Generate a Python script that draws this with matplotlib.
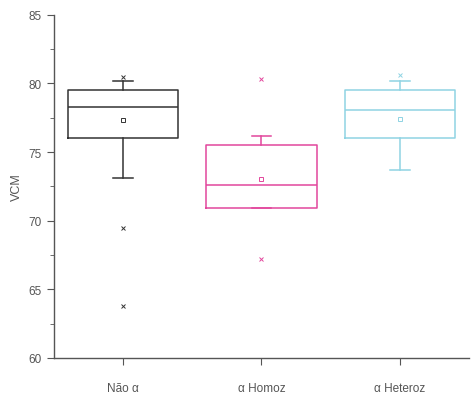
import matplotlib
matplotlib.use("Agg")
import matplotlib.pyplot as plt
from matplotlib.ticker import MultipleLocator

# values
groups = ["Não α", "α Homoz", "α Heteroz"]
q1 = [76.0, 70.95, 76.05]
medians = [78.3, 72.6, 78.1]
q3 = [79.5, 75.55, 79.5]
whis_low = [73.1, 70.9, 73.7]
whis_high = [80.15, 76.2, 80.15]
means = [77.3, 73.05, 77.4]
fliers = [[80.5, 69.5, 63.8], [80.35, 67.2], [80.6]]

colors = ["#333333", "#e2479c", "#8fd3e3"]

plt.rcParams["font.family"] = ["Liberation Sans", "DejaVu Sans"]

fig = plt.figure(figsize=(4.72, 4.06), dpi=100)
ax = fig.add_axes([0.114, 0.116, 0.88, 0.845])

for i, name in enumerate(groups):
    stats = [{
        "label": name,
        "q1": q1[i],
        "med": medians[i],
        "q3": q3[i],
        "whislo": whis_low[i],
        "whishi": whis_high[i],
        "mean": means[i],
        "fliers": fliers[i],
    }]
    c = colors[i]
    ax.bxp(
        stats,
        positions=[i + 1],
        widths=0.8,
        capwidths=0.14,
        showmeans=True,
        boxprops=dict(color=c, lw=1.1),
        medianprops=dict(color=c, lw=1.1),
        whiskerprops=dict(color=c, lw=1.1),
        capprops=dict(color=c, lw=1.1),
        meanprops=dict(marker="s", markersize=3, markerfacecolor="none",
                       markeredgecolor=c, markeredgewidth=0.7),
        flierprops=dict(marker="x", markersize=3, markeredgecolor=c,
                        markeredgewidth=0.7),
    )

ax.set_xlim(0.5, 3.5)
ax.set_ylim(60, 85)
ax.set_xticks([1, 2, 3])
ax.set_xticklabels(groups)
ax.yaxis.set_major_locator(MultipleLocator(5))
ax.yaxis.set_minor_locator(MultipleLocator(2.5))
ax.set_ylabel("VCM", color="#555555", fontsize=9, labelpad=4)

for side in ["top", "right"]:
    ax.spines[side].set_visible(False)
for side in ["left", "bottom"]:
    ax.spines[side].set_color("#555555")
    ax.spines[side].set_linewidth(1.0)

ax.tick_params(axis="both", which="major", direction="out", length=5,
               color="#555555", labelcolor="#555555", labelsize=8.5)
ax.tick_params(axis="y", which="minor", direction="out", length=3,
               color="#555555")
ax.tick_params(axis="x", pad=12)

fig.savefig("out.png", dpi=100)
